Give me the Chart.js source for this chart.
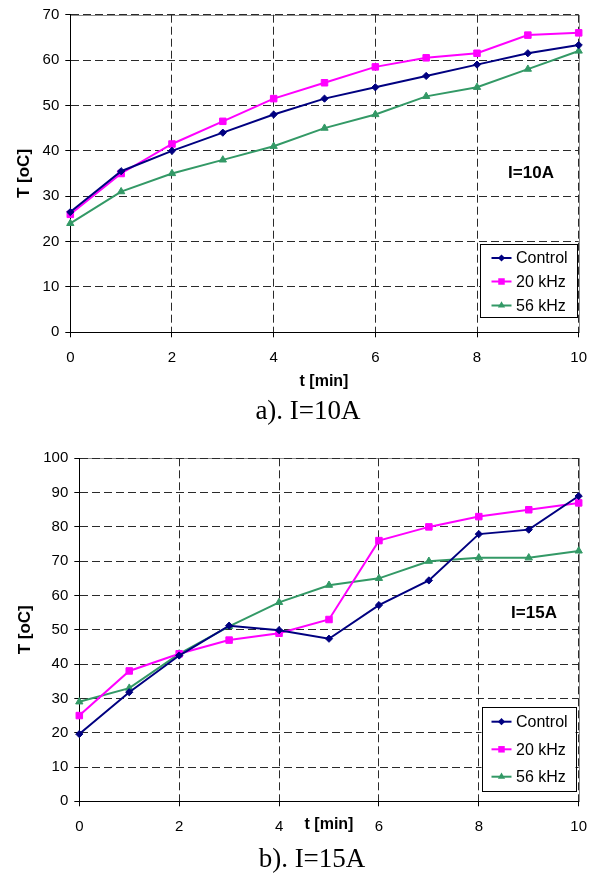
<!DOCTYPE html>
<html>
<head>
<meta charset="utf-8">
<script src="https://cdn.jsdelivr.net/npm/chart.js"></script>
<style>
  html, body { margin: 0; padding: 0; background: #fff; }
  body { width: 592px; height: 877px; position: relative; overflow: hidden; }
  canvas { position: absolute; left: 0; }
  #c1 { top: 0; }
  #c2 { top: 440px; }
  .caption {
    position: absolute; left: 0; width: 592px; text-align: center;
    font-family: "Liberation Serif", "Times New Roman", serif; font-size: 27px; color: #000;
    line-height: 30px;
  }
  #cap1 { top: 395px; left: 12px; }
  #cap2 { top: 843px; left: 16px; }
</style>
</head>
<body>
<canvas id="c1" width="592" height="400"></canvas>
<canvas id="c2" width="592" height="437"></canvas>
<div class="caption" id="cap1">a). I=10A</div>
<div class="caption" id="cap2">b). I=15A</div>
<script>
// time axis (minutes)
const minutes = [0, 1, 2, 3, 4, 5, 6, 7, 8, 9, 10];
const seriesNames = ['Control', '20 kHz', '56 kHz'];

// temperatures at I = 10 A
const control10 = [26.5, 35.5, 40, 44, 48, 51.5, 54, 56.5, 59, 61.5, 63.3];
const khz20_10 = [26, 35, 41.5, 46.5, 51.5, 55, 58.5, 60.5, 61.5, 65.5, 66];
const khz56_10 = [24, 31, 35, 38, 41, 45, 48, 52, 54, 58, 62];

// temperatures at I = 15 A
const control15 = [19.6, 31.8, 42.5, 51.2, 49.9, 47.4, 57.2, 64.4, 77.9, 79.2, 89];
const khz20_15 = [25, 38, 43, 47, 49, 53, 76, 80, 83, 85, 87];
const khz56_15 = [29, 33, 43, 51, 58, 63, 65, 70, 71, 71, 73];

const xTicks = [0, 2, 4, 6, 8, 10];

const FONT = '"Liberation Sans", Arial, Helvetica, sans-serif';
const styles = [
  { color: '#000080', pointStyle: 'rectRot', radius: 3.6 },
  { color: '#ff00ff', pointStyle: 'rect', radius: 4.6 },
  { color: '#339966', pointStyle: 'triangle', radius: 4.2 }
];

function makeDatasets(lists) {
  return lists.map((vals, i) => ({
    label: seriesNames[i],
    data: vals.map((v, k) => ({ x: minutes[k], y: v })),
    borderColor: styles[i].color,
    backgroundColor: styles[i].color,
    borderWidth: 2,
    pointStyle: styles[i].pointStyle,
    pointRadius: styles[i].radius,
    pointBorderWidth: 1,
    pointBorderColor: styles[i].color,
    pointBackgroundColor: styles[i].color,
    tension: 0,
    clip: false
  }));
}

function drawMarker(ctx, style, x, y, r) {
  ctx.beginPath();
  if (style === 'rect') {
    const s = r * Math.SQRT1_2;
    ctx.rect(x - s, y - s, 2 * s, 2 * s);
  } else if (style === 'rectRot') {
    ctx.moveTo(x, y - r); ctx.lineTo(x + r, y); ctx.lineTo(x, y + r); ctx.lineTo(x - r, y);
    ctx.closePath();
  } else {
    ctx.moveTo(x, y - r);
    ctx.lineTo(x + r * Math.sin(2 * Math.PI / 3), y - r * Math.cos(2 * Math.PI / 3));
    ctx.lineTo(x + r * Math.sin(4 * Math.PI / 3), y - r * Math.cos(4 * Math.PI / 3));
    ctx.closePath();
  }
  ctx.fill();
}

// plot frame, axis titles, current label and boxed legend
const frameAndNotes = {
  id: 'frameAndNotes',
  beforeDraw(chart, args, o) {
    const { ctx, chartArea: a } = chart;
    ctx.save();
    ctx.fillStyle = '#fff';
    ctx.fillRect(0, 0, chart.width, chart.height);
    ctx.strokeStyle = '#8c8c8c';
    ctx.lineWidth = 1;
    ctx.strokeRect(Math.round(a.left) + 0.5, Math.round(a.top) + 0.5,
      Math.round(a.right) - Math.round(a.left), Math.round(a.bottom) - Math.round(a.top));
    ctx.restore();
  },
  afterDraw(chart, args, o) {
    const { ctx } = chart;
    ctx.save();
    ctx.fillStyle = '#000';
    ctx.textAlign = 'center';
    ctx.textBaseline = 'middle';
    ctx.font = 'bold 16px ' + FONT;
    ctx.fillText('t [min]', o.xTitle[0], o.xTitle[1]);
    ctx.save();
    ctx.translate(o.yTitle[0], o.yTitle[1]);
    ctx.rotate(-Math.PI / 2);
    ctx.font = 'bold 17px ' + FONT;
    ctx.fillText('T [oC]', 0, 0);
    ctx.restore();
    ctx.font = 'bold 17px ' + FONT;
    ctx.fillText(o.note, o.notePos[0], o.notePos[1]);

    // legend
    const L = o.legend;
    ctx.fillStyle = '#fff';
    ctx.fillRect(L.x, L.y, L.w, L.h);
    ctx.strokeStyle = '#000';
    ctx.lineWidth = 1;
    ctx.strokeRect(Math.round(L.x) + 0.5, Math.round(L.y) + 0.5, Math.round(L.w), Math.round(L.h));
    ctx.font = '16px ' + FONT;
    ctx.textAlign = 'left';
    chart.data.datasets.forEach((ds, i) => {
      const y = L.rows[i];
      ctx.strokeStyle = ds.borderColor;
      ctx.fillStyle = ds.borderColor;
      ctx.lineWidth = 2;
      ctx.beginPath();
      ctx.moveTo(L.lineX0, y); ctx.lineTo(L.lineX1, y);
      ctx.stroke();
      drawMarker(ctx, ds.pointStyle, (L.lineX0 + L.lineX1) / 2, y, ds.pointRadius);
      ctx.fillStyle = '#000';
      ctx.fillText(ds.label, L.textX, y + 1);
    });
    ctx.restore();
  }
};

function makeChart(id, lists, yMax, box, notes) {
  return new Chart(document.getElementById(id), {
    type: 'line',
    data: { datasets: makeDatasets(lists) },
    options: {
      responsive: false,
      animation: false,
      events: [],
      layout: { autoPadding: false, padding: { left: 0, top: box.top, right: 592 - box.right, bottom: 0 } },
      scales: {
        x: {
          type: 'linear', min: 0, max: 10,
          afterFit(s) {
            s.height = box.canvasH - box.bottom;
            s.paddingLeft = 0; s.paddingRight = 0;
          },
          afterBuildTicks(s) { s.ticks = xTicks.map(v => ({ value: v })); },
          ticks: { color: '#000', font: { family: FONT, size: 15 }, padding: box.xPad, maxRotation: 0 },
          grid: { color: '#2a2a2a', lineWidth: 1, tickLength: 5, tickColor: '#000', tickBorderDash: [] },
          border: { display: true, color: '#000', width: 1, dash: [8, 4] }
        },
        y: {
          type: 'linear', min: 0, max: yMax,
          afterFit(s) {
            s.width = box.left;
            s.paddingTop = 0; s.paddingBottom = 0;
          },
          ticks: { stepSize: 10, color: '#000', font: { family: FONT, size: 15 }, padding: 6 },
          grid: { color: '#2a2a2a', lineWidth: 1, tickLength: 5, tickColor: '#000', tickBorderDash: [] },
          border: { display: true, color: '#000', width: 1, dash: [8, 4] }
        }
      },
      plugins: {
        legend: { display: false },
        tooltip: { enabled: false },
        frameAndNotes: notes
      }
    },
    plugins: [frameAndNotes]
  });
}

makeChart('c1', [control10, khz20_10, khz56_10], 70,
  { left: 70.3, right: 578.7, top: 14.7, bottom: 332.3, canvasH: 400, xPad: 12 },
  {
    xTitle: [324, 382], yTitle: [24.5, 173.5],
    note: 'I=10A', notePos: [531, 173],
    legend: { x: 480, y: 243.5, w: 97, h: 73, rows: [258, 281.5, 305.5], lineX0: 491.5, lineX1: 511.5, textX: 516 }
  });

makeChart('c2', [control15, khz20_15, khz56_15], 100,
  { left: 79.3, right: 578.7, top: 18.3, bottom: 361.3, canvasH: 437, xPad: 12 },
  {
    xTitle: [329, 385], yTitle: [25, 189.8],
    note: 'I=15A', notePos: [534, 173],
    legend: { x: 481.5, y: 266.5, w: 94, h: 83.5, rows: [281.7, 309.3, 336.7], lineX0: 491.5, lineX1: 511.5, textX: 516 }
  });
</script>
</body>
</html>
